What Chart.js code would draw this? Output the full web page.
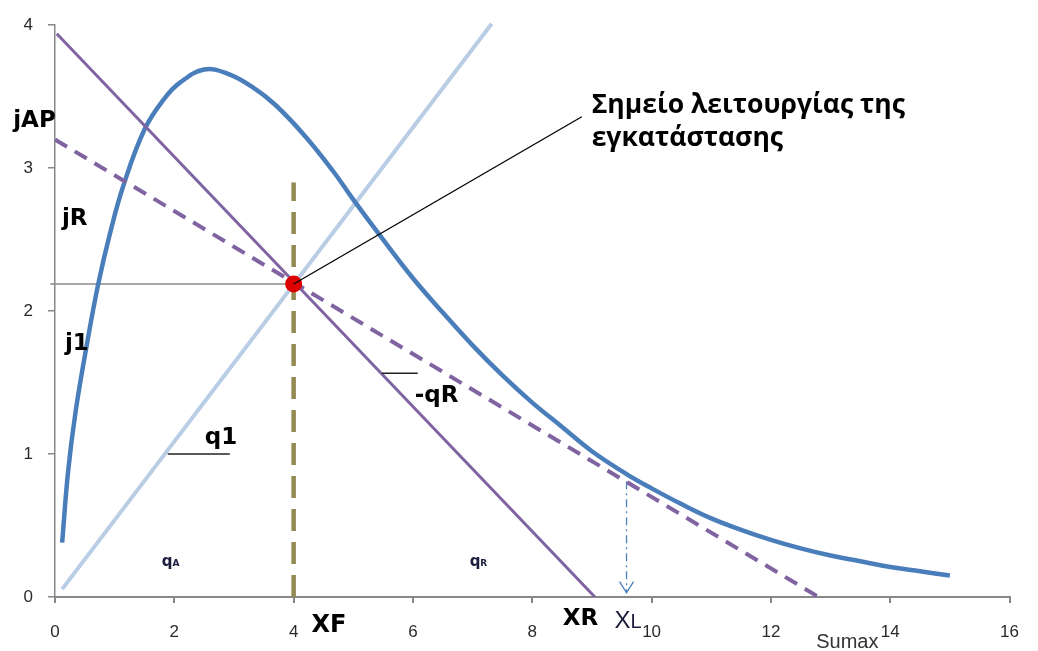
<!DOCTYPE html>
<html>
<head>
<meta charset="utf-8">
<script src="https://cdn.jsdelivr.net/npm/chart.js@4.4.1/dist/chart.umd.min.js"></script>
<style>
  html, body { margin: 0; padding: 0; background: #fff; }
  #chart { display: block; }
</style>
</head>
<body>
<canvas id="chart" width="1038" height="651"></canvas>
<script>
// --- data ---
// blue characteristic curve
const curveX = [0.12, 0.22, 0.35, 0.54, 0.72, 0.92, 1.14, 1.5, 1.84, 2.1, 2.5, 2.9, 3.3, 3.7, 4.2, 4.66, 5.0, 5.5, 6.0, 6.5, 7.0, 7.5, 8.0, 8.5, 9.0, 9.58, 10.0, 10.5, 11.0, 11.5, 12.0, 12.5, 13.0, 13.5, 14.0, 14.5, 15.0];
const curveY = [0.38, 0.88, 1.31, 1.78, 2.18, 2.54, 2.87, 3.27, 3.49, 3.6, 3.69, 3.66, 3.57, 3.44, 3.22, 2.98, 2.78, 2.5, 2.23, 1.99, 1.76, 1.55, 1.36, 1.19, 1.02, 0.86, 0.76, 0.65, 0.55, 0.47, 0.4, 0.34, 0.29, 0.25, 0.21, 0.18, 0.15];

// straight lines (end points)
const lineRX = [0.03, 9.05];      // solid purple  jAP -> XR
const lineRY = [3.94, 0];
const lineLX = [0, 12.8];         // dashed purple
const lineLY = [3.2, 0];
const line1X = [0.12, 7.32];      // light blue  (slope q1)
const line1Y = [0.055, 4.01];

// operating point and helper lines
const opX = 4;
const opY = 2.19;
const refLineX = [-0.08, 4];      // horizontal grey line at opY
const xfLineY = [0, 2.9];         // vertical dashed line at XF
const xlX = 9.58;                 // XL arrow
const xlY = [0.81, 0.03];
const calloutEnd = [8.83, 3.36];  // end of the leader line

// axes
const xTicks = [0, 2, 4, 6, 8, 10, 12, 14, 16];
const yTicks = [0, 1, 2, 3, 4];

// slope markers and labels (data units)
const slopeMarks = [
    { x: [1.89, 2.93], y: 1.0 },
    { x: [5.48, 6.08], y: 1.566 }
];
const BOLD = 'bold 23px "DejaVu Sans"';
const labels = [
    { text: 'jAP', x: -0.7, y: 3.285, font: BOLD },
    { text: 'jR', x: 0.117, y: 2.6, font: BOLD },
    { text: 'j1', x: 0.167, y: 1.73, font: BOLD },
    { text: 'q1', x: 2.51, y: 1.07, font: BOLD },
    { text: '-qR', x: 6.03, y: 1.365, font: BOLD },
    { text: 'XF', x: 4.3, y: -0.243, font: 'bold 24px "DejaVu Sans"' },
    { text: 'XR', x: 8.51, y: -0.194, font: BOLD },
    { text: 'Sumax', x: 12.76, y: -0.36, font: '20px "Liberation Sans"', color: '#333' },
    { text: 'Σημείο λειτουργίας της', x: 8.995, y: 3.389, font: 'bold 26.5px "Open Sans"' },
    { text: 'εγκατάστασης', x: 8.995, y: 3.153, font: 'bold 26.5px "Open Sans"' }
];
const subLabels = [
    { main: 'X', sub: 'L', x: 9.38, y: -0.215, font: '24px "Liberation Sans"', subFont: '20px "Liberation Sans"', color: '#1c1c3c' },
    { main: 'q', sub: 'A', x: 1.79, y: 0.215, font: 'bold 15px "DejaVu Sans"', subFont: 'bold 9px "DejaVu Sans"', color: '#1c1c3c' },
    { main: 'q', sub: 'R', x: 6.95, y: 0.215, font: 'bold 15px "DejaVu Sans"', subFont: 'bold 9px "DejaVu Sans"', color: '#1c1c3c' }
];

const toPoints = (xs, ys) => xs.map((x, i) => ({ x: x, y: ys[i] }));

// draws arrow head, slope markers and all free text
const annotationPlugin = {
    id: 'annotations',
    afterDatasetsDraw(chart) {
        const ctx = chart.ctx;
        const sx = chart.scales.x;
        const sy = chart.scales.y;
        ctx.save();

        // open arrow head at the bottom of the XL line
        const ax = sx.getPixelForValue(xlX);
        const ay = sy.getPixelForValue(xlY[1]);
        ctx.strokeStyle = '#4f81bd';
        ctx.lineWidth = 1.3;
        ctx.beginPath();
        ctx.moveTo(ax - 7, ay - 11);
        ctx.lineTo(ax, ay);
        ctx.lineTo(ax + 7, ay - 11);
        ctx.stroke();

        // short slope marker lines
        ctx.strokeStyle = '#222';
        ctx.lineWidth = 1.5;
        slopeMarks.forEach(m => {
            const py = sy.getPixelForValue(m.y);
            ctx.beginPath();
            ctx.moveTo(sx.getPixelForValue(m.x[0]), py);
            ctx.lineTo(sx.getPixelForValue(m.x[1]), py);
            ctx.stroke();
        });

        ctx.textBaseline = 'alphabetic';
        ctx.textAlign = 'left';
        labels.forEach(l => {
            ctx.font = l.font;
            ctx.fillStyle = l.color || '#000';
            ctx.fillText(l.text, sx.getPixelForValue(l.x), sy.getPixelForValue(l.y));
        });
        subLabels.forEach(l => {
            const px = sx.getPixelForValue(l.x);
            const py = sy.getPixelForValue(l.y);
            ctx.fillStyle = l.color;
            ctx.font = l.font;
            ctx.fillText(l.main, px, py);
            const w = ctx.measureText(l.main).width;
            ctx.font = l.subFont;
            ctx.fillText(l.sub, px + w, py);
        });
        ctx.restore();
    }
};

const ctx = document.getElementById('chart').getContext('2d');
new Chart(ctx, {
    type: 'line',
    data: {
        datasets: [
            {
                // operating point
                data: [{ x: opX, y: opY }],
                showLine: false,
                pointRadius: 8.5,
                pointBackgroundColor: '#dd0000',
                pointBorderWidth: 0,
                order: 2
            },
            {
                // leader line to the text
                data: [{ x: opX, y: opY }, { x: calloutEnd[0], y: calloutEnd[1] }],
                borderColor: '#000',
                borderWidth: 1.3,
                clip: false,
                order: 1
            },
            {
                data: toPoints(lineRX, lineRY),
                borderColor: '#8064a2',
                borderWidth: 3,
                order: 3
            },
            {
                data: toPoints(lineLX, lineLY),
                borderColor: '#8064a2',
                borderWidth: 4,
                borderDash: [14, 9],
                order: 4
            },
            {
                data: toPoints(curveX, curveY),
                borderColor: '#4a7ebb',
                borderWidth: 4.5,
                tension: 0.4,
                order: 5
            },
            {
                data: toPoints(line1X, line1Y),
                borderColor: '#b9cde5',
                borderWidth: 4,
                clip: false,
                order: 6
            },
            {
                data: [{ x: opX, y: xfLineY[0] }, { x: opX, y: xfLineY[1] }],
                borderColor: '#938953',
                borderWidth: 4.5,
                borderDash: [22, 11],
                order: 7
            },
            {
                data: toPoints(refLineX, [opY, opY]),
                borderColor: '#8a8a8a',
                borderWidth: 1.5,
                clip: false,
                order: 8
            },
            {
                data: [{ x: xlX, y: xlY[0] }, { x: xlX, y: xlY[1] }],
                borderColor: '#4f81bd',
                borderWidth: 1.3,
                borderDash: [8, 4, 2, 4],
                order: 9
            }
        ]
    },
    options: {
        responsive: false,
        animation: false,
        layout: { padding: { top: 20, right: 28, left: 0, bottom: 0 } },
        elements: { point: { radius: 0 }, line: { tension: 0 } },
        plugins: {
            legend: { display: false },
            tooltip: { enabled: false }
        },
        scales: {
            x: {
                type: 'linear',
                min: 0,
                max: 16,
                afterBuildTicks: axis => { axis.ticks = xTicks.map(v => ({ value: v })); },
                afterFit: axis => { axis.height = 54; },
                ticks: {
                    color: '#2a2a2a',
                    font: { family: 'Liberation Sans', size: 17 },
                    padding: 19,
                    maxRotation: 0
                },
                grid: { drawOnChartArea: false, tickLength: 6, color: '#888', lineWidth: 2 },
                border: { color: '#888', width: 2 }
            },
            y: {
                type: 'linear',
                min: 0,
                max: 4,
                afterBuildTicks: axis => { axis.ticks = yTicks.map(v => ({ value: v })); },
                afterFit: axis => { axis.width = 55; },
                ticks: {
                    color: '#2a2a2a',
                    font: { family: 'Liberation Sans', size: 17 },
                    padding: 15
                },
                grid: { drawOnChartArea: false, tickLength: 7, color: '#888', lineWidth: 1.5 },
                border: { color: '#888', width: 1.5 }
            }
        }
    },
    plugins: [annotationPlugin]
});
</script>
</body>
</html>
